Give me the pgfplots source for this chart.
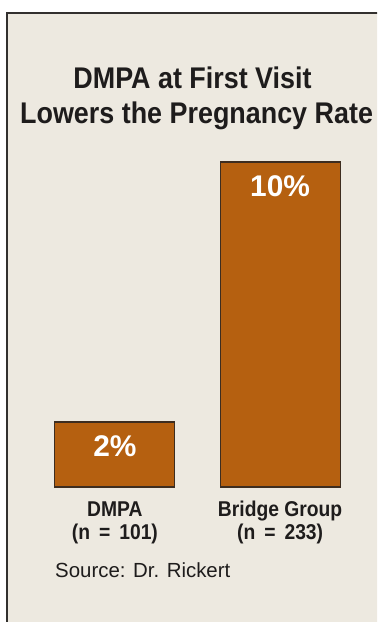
\documentclass[border=0pt]{standalone}
\usepackage{pgfplots}
\pgfplotsset{compat=1.18}
\usepackage{fontspec}
\setmainfont{Liberation Sans}
\newfontfamily\cond{Liberation Sans}[FakeStretch=0.9]
\definecolor{bgc}{RGB}{237,233,224}
\definecolor{framec}{RGB}{50,48,46}
\definecolor{barc}{RGB}{181,96,16}
\definecolor{baredge}{RGB}{61,45,32}
\definecolor{txt}{RGB}{30,28,28}
\newcommand{\catlab}[2]{\begin{tabular}{@{}c@{}}#1\\[0pt]#2\end{tabular}}
\newcommand{\eqs}{\hspace{9bp}=\hspace{9bp}}
\begin{document}
\begin{tikzpicture}[x=1bp,y=1bp]
\clip (0,0) rectangle (377,622);
\fill[white] (0,0) rectangle (377,622);
\fill[bgc] (7,609) rectangle (400,-20);
\draw[framec, line width=2bp] (7,-20) -- (7,609) -- (400,609);
\node[anchor=base, text=txt, inner sep=0pt, font={\cond\bfseries\fontsize{30}{32}\selectfont}] at (192.5,533) {DMPA at First Visit};
\node[anchor=base west, text=txt, inner sep=0pt, font={\cond\bfseries\fontsize{30}{32}\selectfont}] at (20,498) {Lowers the Pregnancy Rate};
\begin{axis}[
  at={(55bp,135bp)}, anchor=south west,
  scale only axis, width=285bp, height=325bp,
  xmin=-0.3625, xmax=1.3625, ymin=0, ymax=10,
  ybar, bar width=120bp,
  axis line style={draw=none}, tick style={draw=none},
  ytick=\empty, xtick=data,
  xticklabels={{\catlab{DMPA}{(n\eqs 101)}},{\catlab{Bridge Group}{(n\eqs 233)}}},
  xticklabel style={text=txt, inner sep=0pt, yshift=-9bp,
    font={\cond\bfseries\fontsize{21.5}{23}\selectfont}},
  /pgf/number format/assume math mode=true,
  nodes near coords={\pgfmathprintnumber{\pgfplotspointmeta}\%},
  every node near coord/.append style={anchor=base, yshift=-35bp, text=white,
    font={\bfseries\fontsize{30}{32}\selectfont}},
  clip=false,
]
\addplot[fill=barc, draw=baredge, line width=1.2bp] coordinates {(0,2) (1,10)};
\end{axis}
\node[anchor=base west, text=txt, inner sep=0pt, font={\fontsize{20.5}{22}\selectfont}] at (55,44) {Source: Dr. Rickert};
\end{tikzpicture}
\end{document}
